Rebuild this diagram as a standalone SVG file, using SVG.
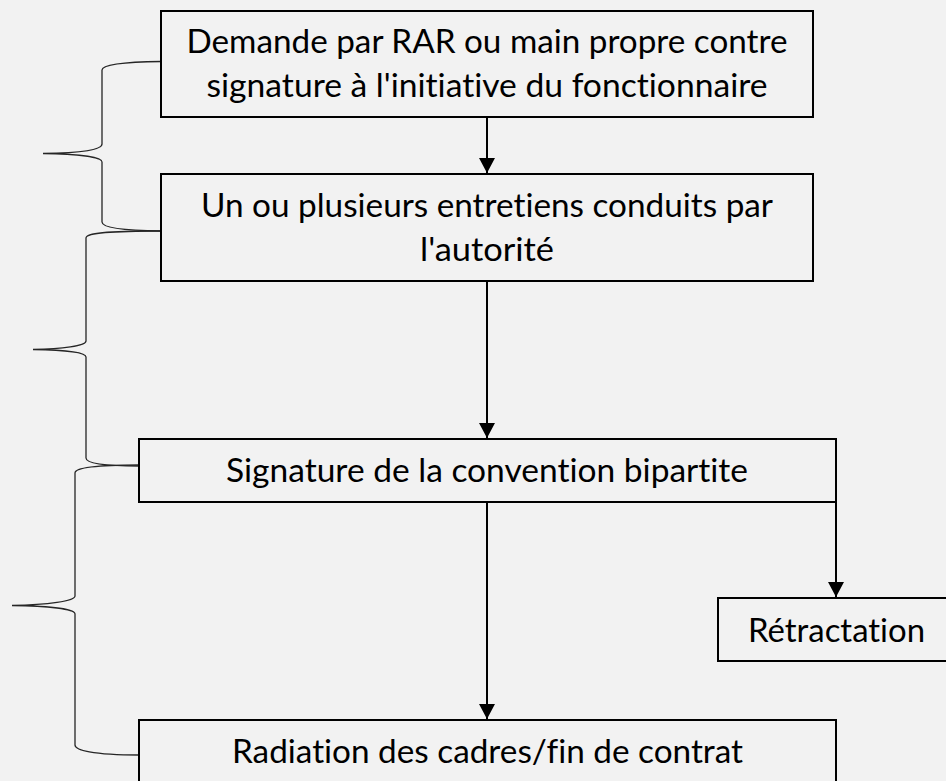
<svg xmlns="http://www.w3.org/2000/svg" width="946" height="781" viewBox="0 0 946 781">
<style>
.box{fill:#f2f2f2;stroke:#000;stroke-width:2}
.t{font-family:Lato,"Open Sans","Liberation Sans",sans-serif;font-size:32px;fill:#000;text-anchor:middle;font-variant-ligatures:none;font-feature-settings:"liga" 0,"clig" 0}
.br{fill:none;stroke:#262626;stroke-width:1.3}
.ln{stroke:#000;stroke-width:2;fill:none}
</style>
<defs>
<marker id="ah" markerUnits="userSpaceOnUse" markerWidth="16" markerHeight="16" refX="15" refY="8" orient="auto" viewBox="0 0 16 16">
<path d="M0,0 L15,8 L0,16 z" fill="#000"/>
</marker>
</defs>
<rect width="946" height="781" fill="#f2f2f2"/>
<g id="braces">
<path class="br" d="M161,61.5 C120,62 102,65 102,70 L102,144 C102,150 78,153 43,153.5 C78,154 102,157 102,162 L102,222 C102,227 120,230.5 161,231"/>
<path class="br" d="M161,231 C105,231 86,233 86,238 L86,341 C86,346 62,349 33,349.5 C62,350 86,352 86,357 L86,458 C86,463 100,466 139,466"/>
<path class="br" d="M139,465 C92,465 75,468 75,473 L75,596 C75,601 48,605 12,605.5 C48,606 75,609 75,614 L75,745 C75,750 92,755 139,755"/>
</g>
<g id="connectors">
<line class="ln" x1="487" y1="117" x2="487" y2="173" marker-end="url(#ah)"/>
<line class="ln" x1="487" y1="281" x2="487" y2="438" marker-end="url(#ah)"/>
<line class="ln" x1="487" y1="502" x2="487" y2="719" marker-end="url(#ah)"/>
<line class="ln" x1="836" y1="468" x2="836" y2="597" marker-end="url(#ah)"/>
</g>
<g id="n1">
<rect class="box" x="161" y="11" width="652" height="106"/>
<text class="t" x="487" y="53" textLength="601" lengthAdjust="spacingAndGlyphs">Demande par RAR ou main propre contre</text>
<text class="t" x="487" y="97" textLength="561" lengthAdjust="spacingAndGlyphs">signature à l'initiative du fonctionnaire</text>
</g>
<g id="n2">
<rect class="box" x="161" y="174" width="652" height="107"/>
<text class="t" x="487" y="217" textLength="572" lengthAdjust="spacingAndGlyphs">Un ou plusieurs entretiens conduits par</text>
<text class="t" x="487" y="261" textLength="134" lengthAdjust="spacingAndGlyphs">l'autorité</text>
</g>
<g id="n3">
<rect class="box" x="139" y="439" width="697" height="63"/>
<text class="t" x="487" y="482" textLength="522" lengthAdjust="spacingAndGlyphs">Signature de la convention bipartite</text>
</g>
<g id="n4">
<rect class="box" x="718" y="598" width="240" height="63"/>
<text class="t" x="836.5" y="642" textLength="177" lengthAdjust="spacingAndGlyphs">Rétractation</text>
</g>
<g id="n5">
<rect class="box" x="139" y="720" width="697" height="80"/>
<text class="t" x="487.5" y="763" textLength="511" lengthAdjust="spacingAndGlyphs">Radiation des cadres/fin de contrat</text>
</g>
</svg>
